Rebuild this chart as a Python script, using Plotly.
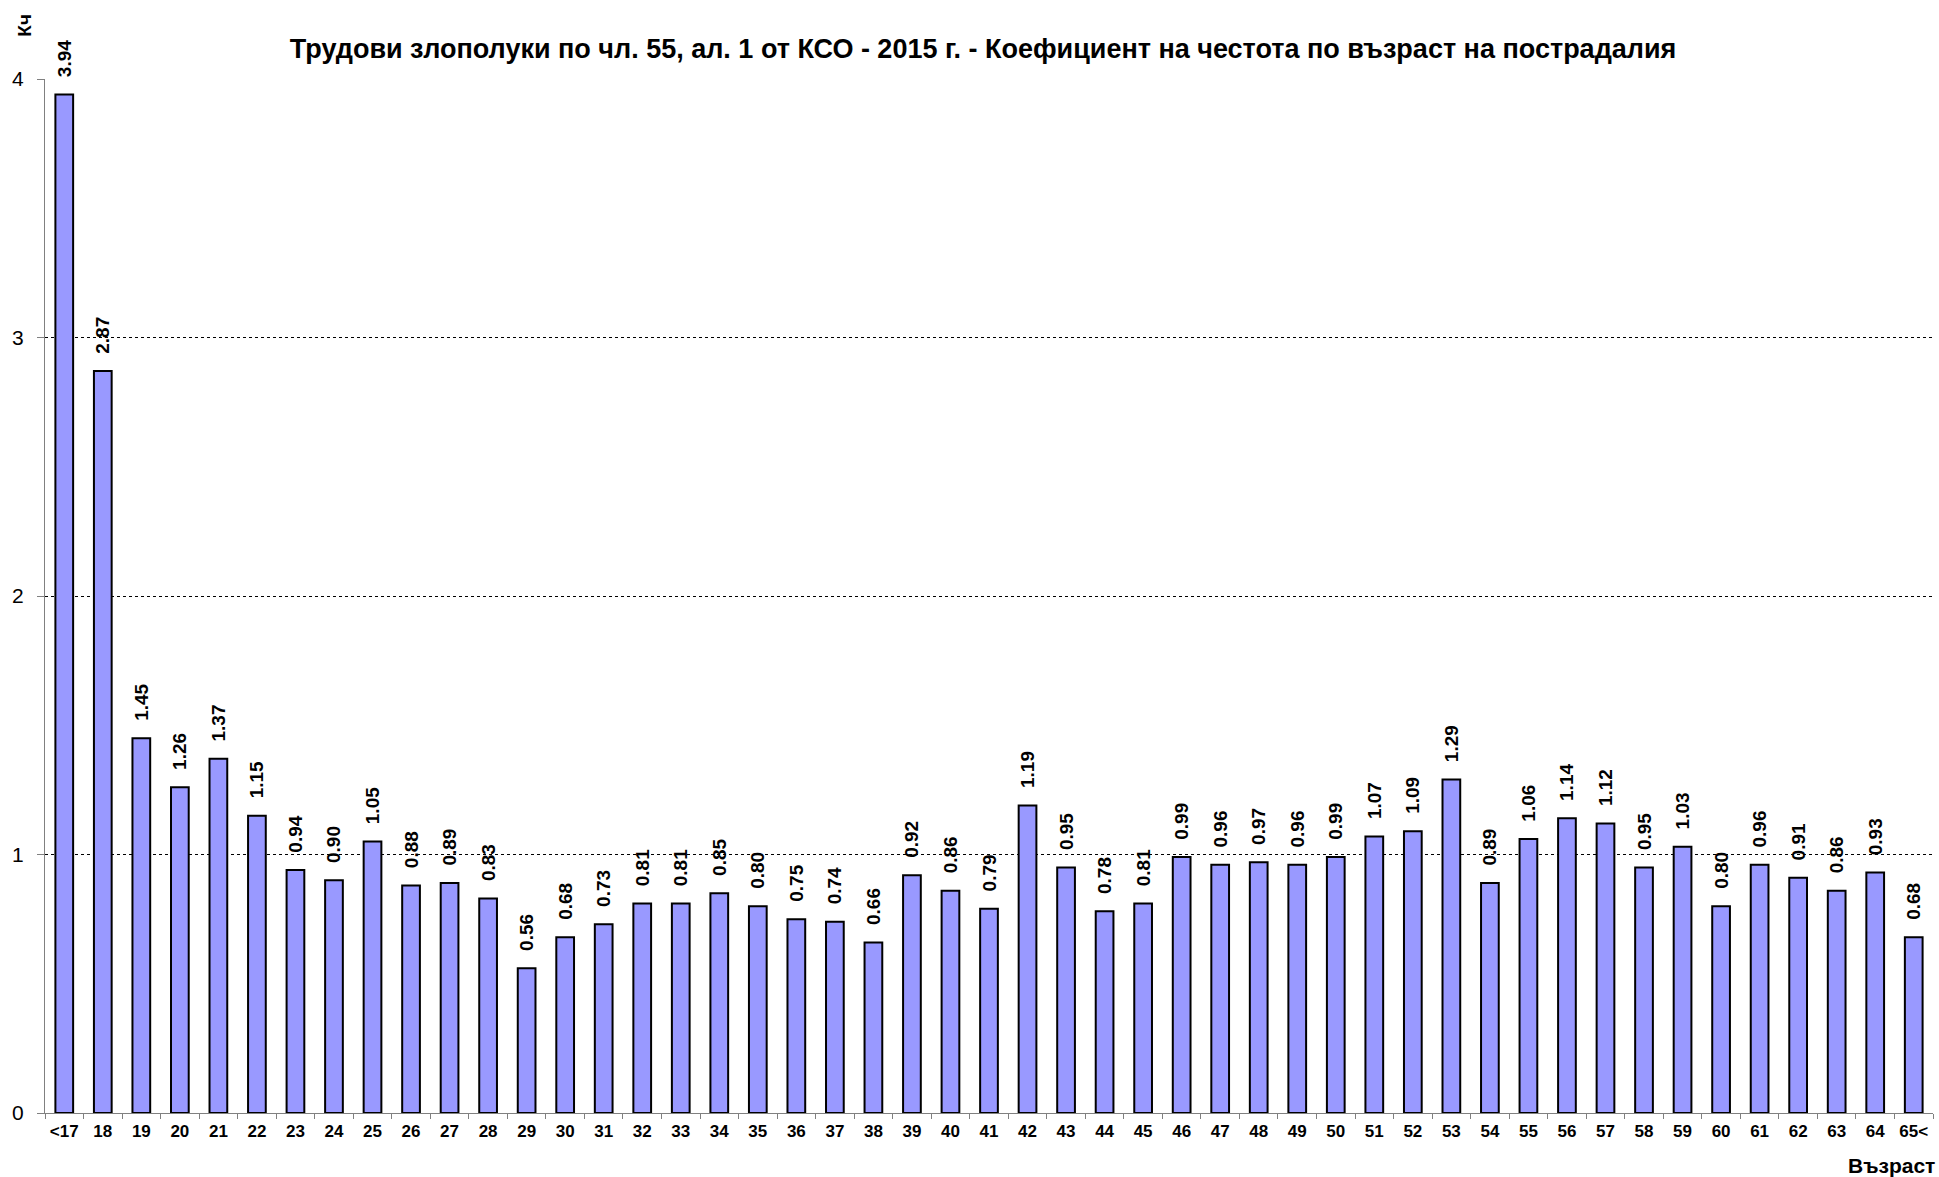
import plotly.graph_objects as go

ages = ["<17", "18", "19", "20", "21", "22", "23", "24", "25", "26", "27", "28", "29",
        "30", "31", "32", "33", "34", "35", "36", "37", "38", "39", "40", "41", "42",
        "43", "44", "45", "46", "47", "48", "49", "50", "51", "52", "53", "54", "55",
        "56", "57", "58", "59", "60", "61", "62", "63", "64", "65<"]
kch = [3.94, 2.87, 1.45, 1.26, 1.37, 1.15, 0.94, 0.90, 1.05, 0.88, 0.89, 0.83, 0.56,
       0.68, 0.73, 0.81, 0.81, 0.85, 0.80, 0.75, 0.74, 0.66, 0.92, 0.86, 0.79, 1.19,
       0.95, 0.78, 0.81, 0.99, 0.96, 0.97, 0.96, 0.99, 1.07, 1.09, 1.29, 0.89, 1.06,
       1.14, 1.12, 0.95, 1.03, 0.80, 0.96, 0.91, 0.86, 0.93, 0.68]
y_ticks = [0, 1, 2, 3, 4]

title = "Трудови злополуки по чл. 55, ал. 1 от КСО - 2015 г. - Коефициент на честота по възраст на пострадалия"

fig = go.Figure()
fig.add_trace(go.Bar(
    x=ages, y=kch,
    marker=dict(color="#9999FF", line=dict(color="black", width=2)),
    # leading non-breaking spaces push the rotated label away from the bar top
    texttemplate="\u00a0\u00a0\u2009%{y:.2f}", textposition="outside", textangle=-90,
    textfont=dict(family="Liberation Sans, Arial", size=19, color="black", weight="bold"),
    constraintext="none",
    cliponaxis=False,
))

fig.update_layout(
    width=1939, height=1177,
    margin=dict(l=45, r=6, t=79, b=64),
    plot_bgcolor="white", paper_bgcolor="white",
    bargap=0.54,
    showlegend=False,
    font=dict(family="Liberation Sans, Arial", color="black"),
    title=dict(text="<b>" + title + "</b>", x=0.507, xanchor="center", y=0.959, yanchor="middle",
               font=dict(size=27, color="black")),
)
fig.update_xaxes(
    type="category", showline=True, linecolor="#808080", linewidth=1,
    ticks="outside", tickson="boundaries", ticklen=5, tickcolor="#808080",
    ticklabelstandoff=3,
    tickfont=dict(size=17, weight="bold"), showgrid=False,
)
fig.update_yaxes(
    range=[0, 4], tickvals=y_ticks, showline=True, linecolor="#808080", linewidth=1,
    ticks="outside", ticklen=7, tickcolor="#808080", ticklabelstandoff=9,
    tickfont=dict(size=21), showgrid=True, gridcolor="black", griddash="dot", gridwidth=1,
    zeroline=False,
)
fig.add_annotation(text="<b>Кч</b>", xref="paper", yref="paper", x=-0.0109, y=1.052,
                   xanchor="center", yanchor="middle",
                   showarrow=False, textangle=-90, font=dict(size=19, color="black"))
fig.add_annotation(text="<b>Възраст</b>", xref="paper", yref="paper", x=1.002, y=-0.0503,
                   xanchor="right", yanchor="middle", showarrow=False,
                   font=dict(size=21, color="black"))

fig.write_html("out.html", config={"displayModeBar": False},
               post_script="document.body.style.margin='0px';")
